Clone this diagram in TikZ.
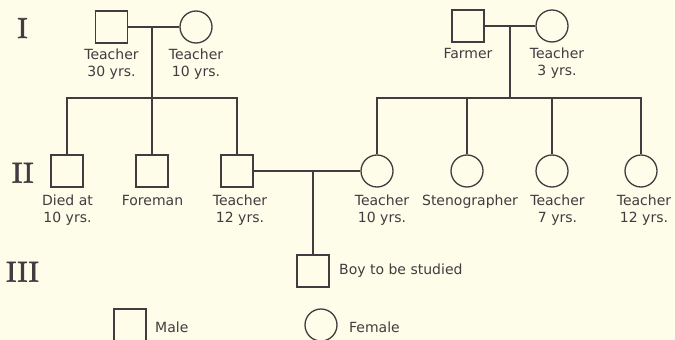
\documentclass[tikz,border=0pt]{standalone}
\usepackage{fontspec}
\setsansfont{DejaVu Sans}
\newfontfamily\romfont{lmroman10-regular.otf}[FakeBold=2]
\definecolor{paper}{HTML}{FDFDE9}
\definecolor{ink}{HTML}{433B3F}

\tikzset{
  male/.style={draw=ink,line width=1.3pt,minimum size=32pt,inner sep=0pt},
  female/.style={circle,draw=ink,line width=1.3pt,minimum size=32pt,inner sep=0pt},
  lbl/.style={text=ink,font=\sffamily\fontsize{14}{17}\selectfont,align=center,inner sep=0pt,anchor=north},
  keylbl/.style={text=ink,font=\sffamily\fontsize{14}{17}\selectfont,inner sep=0pt,anchor=base west},
  gen/.style={text=ink,font=\romfont\fontsize{29}{30}\selectfont,inner sep=0pt,anchor=base},
  kin/.style={draw=ink,line width=1.6pt}
}

\begin{document}
\begin{tikzpicture}[x=1pt,y=-1pt]
  \fill[paper] (0,0) rectangle (675,340);
  \useasboundingbox (0,0) rectangle (675,340);

  % generations
  \node[gen] (g1) at (22.5,38) {I};
  \node[gen] (g2) at (22.7,182.7) {II};
  \node[gen] (g3) at (22.5,281.7) {III};

  % generation I
  \node[male] (pfa) at (111.5,27) {};
  \node[female] (pmo) at (196,27) {};
  \node[male] (mfa) at (468,26) {};
  \node[female] (mmo) at (552,26) {};

  \node[lbl] (lpfa) at (111.5,49) {Teacher\\30 yrs.};
  \node[lbl] (lpmo) at (196,49) {Teacher\\10 yrs.};
  \node[lbl] (lmfa) at (468,48) {Farmer};
  \node[lbl] (lmmo) at (557,48) {Teacher\\3 yrs.};

  % generation II
  \node[male] (son1) at (67,171) {};
  \node[male] (son2) at (152,171) {};
  \node[male] (dad) at (237,171) {};
  \node[female] (mum) at (377,171) {};
  \node[female] (dau2) at (467,171) {};
  \node[female] (dau3) at (552,171) {};
  \node[female] (dau4) at (641,171) {};

  \node[lbl] (lson1) at (67.5,195) {Died at\\10 yrs.};
  \node[lbl] (lson2) at (152.5,195) {Foreman};
  \node[lbl] (ldad) at (240,195) {Teacher\\12 yrs.};
  \node[lbl] (lmum) at (382,195) {Teacher\\10 yrs.};
  \node[lbl] (ldau2) at (470,195) {Stenographer};
  \node[lbl] (ldau3) at (557.5,195) {Teacher\\7 yrs.};
  \node[lbl] (ldau4) at (644,195) {Teacher\\12 yrs.};

  % generation III
  \node[male] (boy) at (313,271) {};
  \node[keylbl] (lboy) at (339,274.3) {Boy to be studied};

  % key
  \node[male] (keym) at (130,325) {};
  \node[keylbl] (lkeym) at (155,332) {Male};
  \node[female] (keyf) at (321,325) {};
  \node[keylbl] (lkeyf) at (349,332) {Female};

  % connectors
  \coordinate (mA) at (152,27);
  \coordinate (barA) at (152,98);
  \coordinate (mB) at (510,26);
  \coordinate (barB) at (510,98);
  \coordinate (mC) at (313,171);

  \draw[kin] (pfa) -- (pmo);
  \draw[kin] (mA) -- (barA);
  \draw[kin] (son1) |- (barA) -| (dad);
  \draw[kin] (son2) -- (son2 |- barA);

  \draw[kin] (mfa) -- (mmo);
  \draw[kin] (mB) -- (barB);
  \draw[kin] (mum) |- (barB) -| (dau4);
  \draw[kin] (dau2) -- (dau2 |- barB);
  \draw[kin] (dau3) -- (dau3 |- barB);

  \draw[kin] (dad) -- (mum);
  \draw[kin] (mC) -- (boy);
\end{tikzpicture}
\end{document}
